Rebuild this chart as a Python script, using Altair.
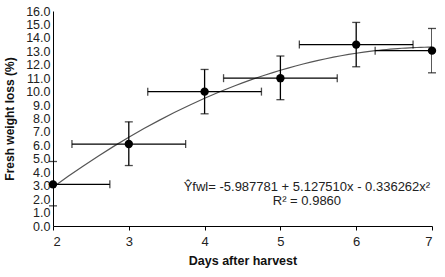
import altair as alt
import pandas as pd

days = [2, 3, 4, 5, 6, 7]
loss = [3.1, 6.1, 10.0, 11.0, 13.5, 13.05]
loss_low = [1.5, 4.5, 8.35, 9.4, 11.85, 11.4]
loss_high = [4.8, 7.75, 11.65, 12.65, 15.15, 14.7]
day_low = [1.25, 2.25, 3.25, 4.25, 5.25, 6.25]
day_high = [2.75, 3.75, 4.75, 5.75, 6.75, 7.75]

eq_lines = ["\u0176fwl= -5.987781 + 5.127510x - 0.336262x\u00b2", "R\u00b2 = 0.9860"]
eq_day = [5.35, 5.35]
eq_loss = [2.62, 1.6]

y_ticks = list(range(0, 17))
x_ticks = [2, 3, 4, 5, 6, 7]

FONT = "Liberation Sans"

df = pd.DataFrame({"day": days, "loss": loss, "ylo": loss_low, "yhi": loss_high,
                   "xlo": day_low, "xhi": day_high})
eq = pd.DataFrame({"day": eq_day, "loss": eq_loss, "label": eq_lines})

xs = alt.Scale(domain=[2, 7], nice=False, zero=False)
ys = alt.Scale(domain=[0, 16], nice=False, zero=True)

x_axis = alt.Axis(values=x_ticks, format="d", title="Days after harvest", grid=False, tickSize=4,
                  labelFontSize=13, titleFontSize=12.5, titleFontWeight="bold",
                  labelFont=FONT, titleFont=FONT, labelColor="#222", titleColor="#111",
                  domainColor="black", tickColor="black", labelPadding=5, titlePadding=6,
                  labelOverlap=False)
y_axis = alt.Axis(values=y_ticks, format=".1f", title="Fresh weight loss (%)", grid=False,
                  ticks=False, labelFontSize=12.5, titleFontSize=12, titleFontWeight="bold",
                  labelFont=FONT, titleFont=FONT, labelColor="#222", titleColor="#111",
                  domainColor="black", labelPadding=3, titlePadding=9, labelOverlap=False,
                  labelBound=False)


def X(f):
    return alt.X(f, scale=xs, axis=x_axis)


def Y(f):
    return alt.Y(f, scale=ys, axis=y_axis)


base = alt.Chart(df)

fit = base.transform_regression("day", "loss", method="poly", order=2, extent=[2, 7]).mark_line(
    color="#555", strokeWidth=1.2, clip=True
).encode(x=X("day:Q"), y=Y("loss:Q"))

hbar = base.mark_rule(color="black", strokeWidth=1.3, clip=True).encode(
    x=X("xlo:Q"), x2="xhi:Q", y=Y("loss:Q"))
vbar = base.mark_rule(color="black", strokeWidth=1.3, clip=True).encode(
    x=X("day:Q"), y=Y("ylo:Q"), y2="yhi:Q")

hcap_lo = base.mark_tick(orient="vertical", color="black", size=8, thickness=1.3, clip=True).encode(
    x=X("xlo:Q"), y=Y("loss:Q"))
hcap_hi = base.mark_tick(orient="vertical", color="black", size=8, thickness=1.3, clip=True).encode(
    x=X("xhi:Q"), y=Y("loss:Q"))
vcap_lo = base.mark_tick(orient="horizontal", color="black", size=8, thickness=1.3).encode(
    x=X("day:Q"), y=Y("ylo:Q"))
vcap_hi = base.mark_tick(orient="horizontal", color="black", size=8, thickness=1.3).encode(
    x=X("day:Q"), y=Y("yhi:Q"))

pts = base.mark_circle(color="black", size=70, opacity=1).encode(x=X("day:Q"), y=Y("loss:Q"))

txt = alt.Chart(eq).mark_text(font=FONT, fontSize=13, color="#222", align="center",
                              baseline="alphabetic").encode(x=X("day:Q"), y=Y("loss:Q"), text="label:N")

chart = alt.layer(fit, hbar, vbar, hcap_lo, hcap_hi, vcap_lo, vcap_hi, pts, txt).properties(
    width=379, height=215,
    autosize=alt.AutoSizeParams(type="none"),
    padding={"left": 53, "top": 11, "right": 13, "bottom": 51},
    background="white",
).configure_view(stroke=None).configure_axis(labelOverlap=False)

chart.save("out.html", embed_options={"renderer": "svg", "actions": False})
